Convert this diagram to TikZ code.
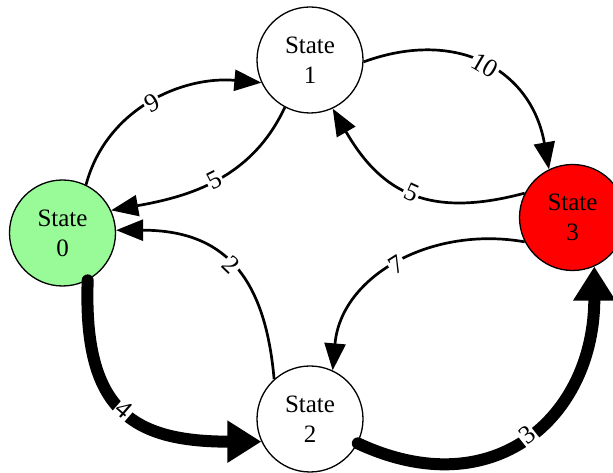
\documentclass[tikz,border=0pt]{standalone}
\usepackage{fontspec}
\setmainfont{Liberation Serif}
\usetikzlibrary{arrows.meta}
\definecolor{stategreen}{RGB}{152,251,152}
\definecolor{statered}{RGB}{255,0,0}
\begin{document}
\begin{tikzpicture}[x=1pt,y=1pt,
  state/.style={circle, draw, line width=1.3pt, minimum size=106pt, inner sep=0pt,
    align=center, font=\fontsize{25}{30}\selectfont},
  trans/.style={line width=2.7pt, -{Triangle[length=27pt,width=21pt]}},
  heavy/.style={line width=12pt, line cap=round, -{Triangle[length=34pt,width=40pt]}},
  weight/.style={sloped, fill=white, inner sep=1.5pt, font=\fontsize{26}{26}\selectfont}
]
\useasboundingbox (0,0) rectangle (613,473);

% states
\node[state, fill=stategreen] (S0) at (62.5,240) {State\\0};
\node[state, fill=white]      (S1) at (310,413)  {State\\1};
\node[state, fill=white]      (S2) at (310,54)   {State\\2};
\node[state, fill=statered]   (S3) at (572.5,255.5) {State\\3};

% ordinary transitions
\draw[trans] (S0.64)  to[out=75,in=175]  node[weight]{9}  (S1.205);
\draw[trans] (S1.242) to[out=245,in=10]  node[weight]{5}  (S0.25);
\draw[trans] (S1.358) to[out=20,in=100,looseness=1.2]  node[weight]{10} (S3.116);
\draw[trans] (S3.153) to[out=195,in=300,looseness=1.2] node[weight]{5}  (S1.295);
\draw[trans] (S2.132) to[out=95,in=0,looseness=1.25]   node[weight]{2}  (S0.3);
\draw[trans] (S3.207) to[out=170,in=85,looseness=1.05] node[weight]{7}  (S2.65);

% heavy transitions
\draw[heavy] (S0.298) to[out=268,in=180,looseness=1.4] node[weight]{4} (S2.205);
\draw[heavy] (S2.333) to[out=335,in=270,looseness=1.3] node[weight]{3} (S3.294);
\end{tikzpicture}
\end{document}
